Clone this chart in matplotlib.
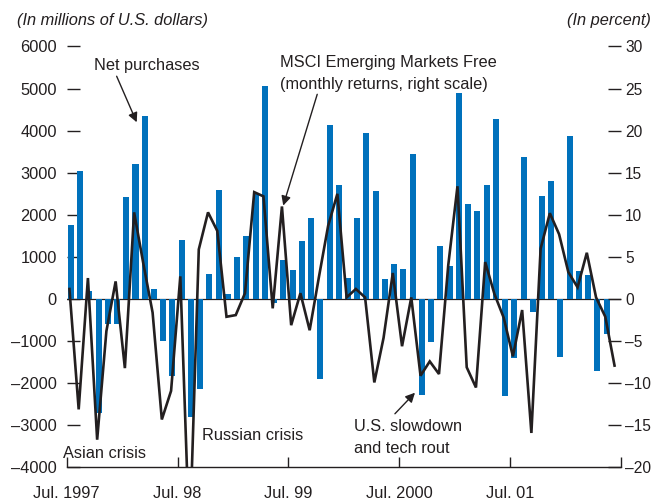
import matplotlib
matplotlib.use('Agg')
import matplotlib.pyplot as plt
import numpy as np

plt.rcParams['font.family'] = ['Liberation Sans', 'DejaVu Sans']

# net purchases, millions of US$, monthly from Jul. 1997
net_purchases = [1750, 3050, 200, -2700, -600, -600, 2420, 3200, 4350, 250,
                 -1000, -1830, 1400, -2800, -2130, 600, 2580, 130, 1000, 1500,
                 2500, 5050, -100, 930, 700, 1370, 1920, -1890, 4130, 2700,
                 510, 1920, 3940, 2560, 480, 840, 720, 3440, -2270, -1030,
                 1270, 790, 4900, 2250, 2100, 2720, 4270, -2300, -1410, 3370,
                 -300, 2460, 2800, -1370, 3870, 675, 580, -1700, -840]

# MSCI Emerging Markets Free monthly returns, percent
msci_returns = [1.2, -13.1, 2.5, -16.7, -3.8, 2.1, -8.2, 10.3, 4.2, -1.6,
                -14.3, -10.9, 2.7, -29.0, 5.9, 10.3, 8.1, -2.1, -1.9, 0.7,
                12.7, 12.2, -1.1, 11.0, -3.1, 0.7, -3.7, 2.6, 8.7, 12.5,
                0.2, 1.2, 0.2, -9.9, -4.6, 3.1, -5.6, 0.2, -9.1, -7.4,
                -8.9, 4.0, 13.4, -8.1, -10.5, 4.4, 0.6, -2.2, -6.8, -1.3,
                -15.9, 6.0, 10.2, 7.7, 3.2, 1.4, 5.5, 0.2, -2.1, -7.9]

x_ticks = [0, 12, 24, 36, 48, 60]
x_labels = ['Jul. 1997', 'Jul. 98', 'Jul. 99', 'Jul. 2000', 'Jul. 01', '']
left_ticks = [-4000, -3000, -2000, -1000, 0, 1000, 2000, 3000, 4000, 5000, 6000]
right_ticks = [-20, -15, -10, -5, 0, 5, 10, 15, 20, 25, 30]

blue = '#0071BC'
ink = '#231F20'
fs = 11.8


def lab(v):
    return f'{v}'.replace('-', '\u2013')


fig = plt.figure(figsize=(6.53, 5.03), dpi=100)
ax = fig.add_axes([0.1021, 0.0706, 0.951 - 0.1021, 0.9076 - 0.0706])
ax2 = ax.twinx()

bx = np.arange(len(net_purchases)) + 0.45
ax.bar(bx, net_purchases, width=0.65, color=blue, zorder=2)
ax.axhline(0, color=ink, lw=0.9, zorder=1.5)

lx = np.arange(len(msci_returns)) + 0.3
ax2.plot(lx, msci_returns, color=ink, lw=1.9, solid_joinstyle='miter')

ax.set_xlim(0, 60)
ax.set_ylim(-4000, 6000)
ax2.set_ylim(-20, 30)

for s in ['top', 'left', 'right']:
    ax.spines[s].set_visible(False)
for s in ax2.spines.values():
    s.set_visible(False)
ax.spines['bottom'].set_color(ink)
ax.spines['bottom'].set_linewidth(1.0)

ax.set_xticks(x_ticks)
ax.set_xticklabels(x_labels)
ax.tick_params(axis='x', direction='in', length=7.2, width=1.0, color=ink,
               pad=13, labelsize=fs, labelcolor=ink)
ax.set_yticks(left_ticks)
ax.set_yticklabels([lab(v) for v in left_ticks])
ax.tick_params(axis='y', direction='in', length=9.5, width=1.0, color=ink,
               pad=7, labelsize=fs, labelcolor=ink)
ax2.set_yticks(right_ticks)
ax2.set_yticklabels([lab(v) for v in right_ticks])
ax2.tick_params(axis='y', direction='in', length=9.5, width=1.0, color=ink,
                pad=3, labelsize=11.2, labelcolor=ink)

fig.text(0.026, 0.95, '(In millions of U.S. dollars)', style='italic',
         fontsize=fs, color=ink, va='baseline', ha='left')
fig.text(0.996, 0.95, '(In percent)', style='italic',
         fontsize=fs, color=ink, va='baseline', ha='right')

arrow = dict(arrowstyle='-|>', color=ink, lw=1.0, mutation_scale=14,
             shrinkA=0, shrinkB=0)
ax.text(2.95, 5452, 'Net purchases', fontsize=fs, color=ink, va='baseline')
ax.annotate('', xy=(7.58, 4200), xytext=(5.41, 5293), arrowprops=arrow)

ax.text(23.1, 4990, 'MSCI Emerging Markets Free\n(monthly returns, right scale)',
        fontsize=fs, color=ink, va='baseline', linespacing=1.6)
ax.annotate('', xy=(23.44, 2221), xytext=(27.12, 4864), arrowprops=arrow)

ax.text(31.1, -3660, 'U.S. slowdown\nand tech rout', fontsize=fs, color=ink,
        va='baseline', linespacing=1.6)
ax.annotate('', xy=(37.7, -2224), xytext=(35.53, -2724), arrowprops=arrow)

ax.text(-0.4, -3779, 'Asian crisis', fontsize=fs, color=ink, va='baseline')
ax.text(14.61, -3357, 'Russian crisis', fontsize=fs, color=ink, va='baseline')

fig.savefig('out.png', dpi=100)
